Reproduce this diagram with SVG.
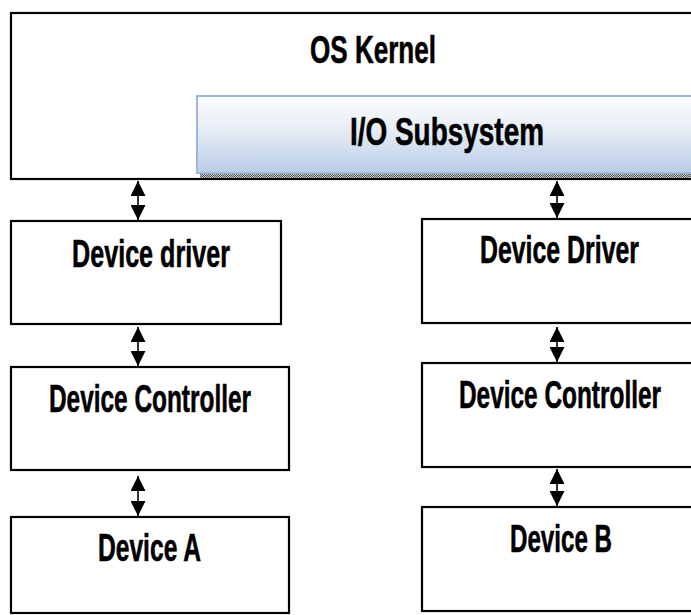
<svg xmlns="http://www.w3.org/2000/svg" width="691" height="615" viewBox="0 0 691 615">
  <style>
    .box { fill: #ffffff; stroke: #000000; stroke-width: 2.2; }
    .label { font-family: "Liberation Sans", Arial, sans-serif; font-weight: bold; font-size: 39px; fill: #000000; stroke: #000000; stroke-width: 0.6; text-anchor: start; }
    .link { stroke: #000000; stroke-width: 1.6; fill: none; marker-start: url(#head); marker-end: url(#head); }
  </style>
  <defs>
    <linearGradient id="ioFill" x1="0" y1="0" x2="0" y2="1">
      <stop offset="0" stop-color="#fdfeff"/>
      <stop offset="0.45" stop-color="#e6ecf5"/>
      <stop offset="1" stop-color="#b8cce6"/>
    </linearGradient>
    <pattern id="dither" width="2" height="2" patternUnits="userSpaceOnUse">
      <rect width="2" height="2" fill="#c8c8c8"/>
      <rect width="1" height="1" fill="#5a5a5a"/>
      <rect x="1" y="1" width="1" height="1" fill="#5a5a5a"/>
    </pattern>
    <marker id="head" viewBox="0 0 15 15" refX="15" refY="7.5" markerWidth="15" markerHeight="15" markerUnits="userSpaceOnUse" orient="auto-start-reverse">
      <path d="M0,0 L15,7.5 L0,15 Z" fill="#000000"/>
    </marker>
  </defs>

  <!-- kernel with the I/O subsystem inside it -->
  <g id="os-kernel">
    <rect class="box" x="11" y="13" width="700" height="166"/>
    <text class="label" x="310" y="63" textLength="126" lengthAdjust="spacingAndGlyphs">OS Kernel</text>
  </g>
  <g id="io-subsystem">
    <rect x="200" y="174" width="500" height="4" fill="url(#dither)"/>
    <rect x="197" y="96" width="510" height="77" fill="url(#ioFill)" stroke="#9bb8dc" stroke-width="2"/>
    <text class="label" x="350" y="145" textLength="194" lengthAdjust="spacingAndGlyphs">I/O Subsystem</text>
  </g>

  <!-- left stack -->
  <g id="device-driver-left">
    <rect class="box" x="11" y="221" width="270" height="103"/>
    <text class="label" x="72" y="267" textLength="158" lengthAdjust="spacingAndGlyphs">Device driver</text>
  </g>
  <g id="device-controller-left">
    <rect class="box" x="11" y="367" width="278" height="103"/>
    <text class="label" x="49" y="412" textLength="202" lengthAdjust="spacingAndGlyphs">Device Controller</text>
  </g>
  <g id="device-a">
    <rect class="box" x="11" y="517" width="278" height="96"/>
    <text class="label" x="98" y="561" textLength="103" lengthAdjust="spacingAndGlyphs">Device A</text>
  </g>

  <!-- right stack -->
  <g id="device-driver-right">
    <rect class="box" x="422" y="219" width="300" height="104"/>
    <text class="label" x="480" y="263" textLength="159" lengthAdjust="spacingAndGlyphs">Device Driver</text>
  </g>
  <g id="device-controller-right">
    <rect class="box" x="422" y="363" width="300" height="104"/>
    <text class="label" x="459" y="408" textLength="202" lengthAdjust="spacingAndGlyphs">Device Controller</text>
  </g>
  <g id="device-b">
    <rect class="box" x="422" y="507" width="300" height="104"/>
    <text class="label" x="510" y="552" textLength="102" lengthAdjust="spacingAndGlyphs">Device B</text>
  </g>

  <!-- two-way links between layers -->
  <g id="connectors">
    <line class="link" x1="138" y1="181" x2="138" y2="220"/>
    <line class="link" x1="138" y1="327" x2="138" y2="366"/>
    <line class="link" x1="138" y1="476" x2="138" y2="516"/>
    <line class="link" x1="557" y1="181" x2="557" y2="218"/>
    <line class="link" x1="557" y1="327" x2="557" y2="362"/>
    <line class="link" x1="557" y1="469" x2="557" y2="506"/>
  </g>
</svg>
